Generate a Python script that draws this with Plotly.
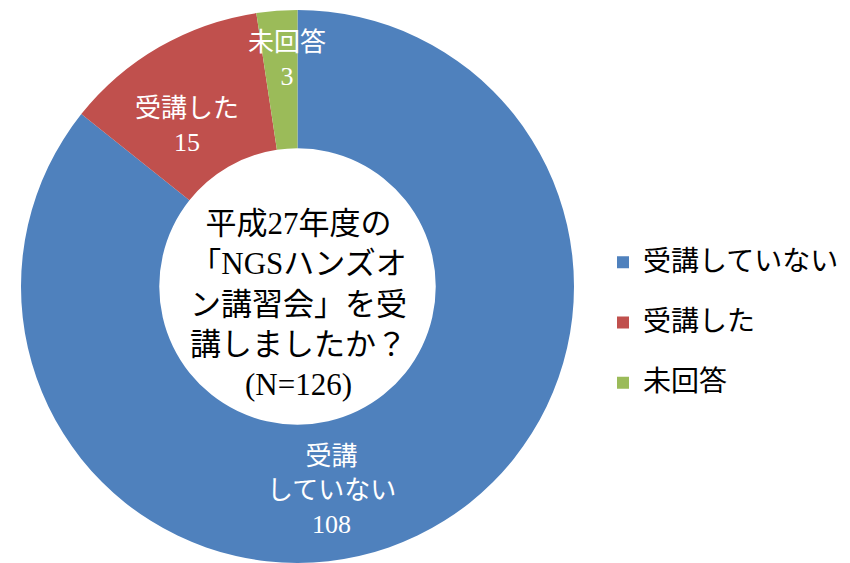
import plotly.graph_objects as go

categories = ["受講していない", "受講した", "未回答"]
values = [108, 15, 3]
colors = ["#4F81BD", "#C0504D", "#9BBB59"]
slice_texts = ["受講<br>していない<br>108", "受講した<br>15", "未回答<br>3"]
center_text = "平成27年度の<br>「NGSハンズオ<br>ン講習会」を受<br>講しましたか？<br>(N=126)"

FONT = "Liberation Serif, 'Noto Sans CJK JP', serif"
W, H = 850, 563

legend_labels = [f"<span style='font-size:28px'>{c}</span><br>\u3000" for c in categories]

fig = go.Figure()
fig.add_trace(go.Pie(
    labels=legend_labels,
    values=values,
    marker=dict(colors=colors, line=dict(width=0)),
    hole=0.5,
    sort=False,
    direction="clockwise",
    rotation=0,
    textinfo="none",
    hoverinfo="skip",
    domain=dict(x=[(297.5 - 277) / W, (297.5 + 277) / W], y=[0, 1 - 10 / H]),
))

# slice labels
label_pos = [(331, 490), (187, 125), (287, 60)]
for t, (px, py) in zip(slice_texts, label_pos):
    fig.add_annotation(x=px / W, y=1 - py / H, xref="paper", yref="paper",
                       text=t, showarrow=False, xanchor="center", yanchor="middle",
                       font=dict(family=FONT, size=26, color="white"))

fig.add_annotation(x=298 / W, y=1 - 304 / H, xref="paper", yref="paper",
                   text=center_text, showarrow=False, xanchor="center", yanchor="middle",
                   font=dict(family=FONT, size=31, color="black"))

fig.update_layout(
    width=W, height=H,
    margin=dict(l=0, r=0, t=0, b=0),
    paper_bgcolor="white",
    plot_bgcolor="white",
    showlegend=True,
    legend=dict(x=603 / W, xanchor="left", y=1 - 337 / H, yanchor="middle",
                valign="top", font=dict(family=FONT, size=22, color="black"),
                bgcolor="rgba(0,0,0,0)"),
)

fig.write_html("out.html", config={"displayModeBar": False},
               post_script="document.body.style.margin='0px';")
